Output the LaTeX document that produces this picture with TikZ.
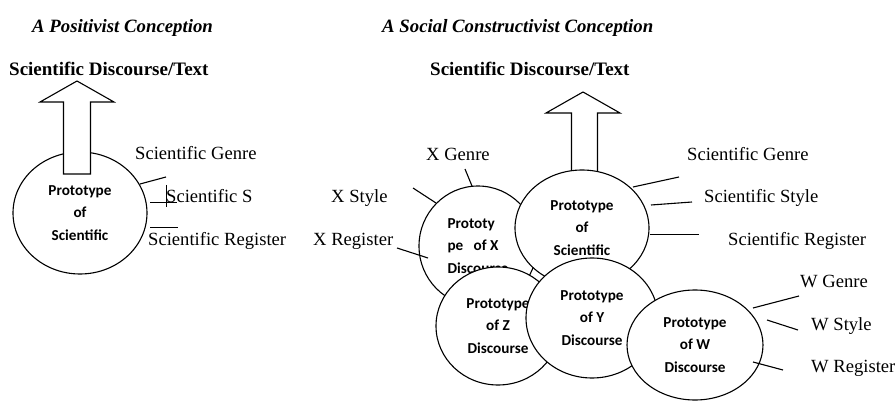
\documentclass[tikz,border=0pt]{standalone}
\usepackage{fontspec}
\setmainfont{Liberation Serif}
\newfontfamily\carl{Carlito}
\usetikzlibrary{shapes.geometric}
\begin{document}
\begin{tikzpicture}[x=1pt,y=-1pt,
  proto/.style={ellipse, draw, fill=white, line width=1.1pt, inner sep=0pt, align=center,
    font=\carl\bfseries\fontsize{15.2}{22.5}\selectfont},
  lbl/.style={anchor=base west, inner sep=0pt, font=\fontsize{18.6}{20}\selectfont},
  ttl/.style={anchor=base west, inner sep=0pt, font=\bfseries\itshape\fontsize{18.8}{20}\selectfont},
  hd/.style={anchor=base west, inner sep=0pt, font=\bfseries\fontsize{19}{20}\selectfont},
  tick/.style={line width=1.1pt},
  bigarrow/.style={draw, fill=white, line width=1.1pt, line join=miter}
]
\useasboundingbox (0,0) rectangle (895,401);

% ---------- titles ----------
\node[ttl] (t1) at (32,33) {A Positivist Conception};
\node[ttl] (t2) at (382,33) {A Social Constructivist Conception};
\node[hd] (h1) at (9,76) {Scientific Discourse/Text};
\node[hd] (h2) at (430,76) {Scientific Discourse/Text};

% ---------- left: positivist ----------
\node[proto, minimum width=134pt, minimum height=122pt] (pl) at (80,213) {Prototype\\of\\Scientific};
\draw[bigarrow] (63.5,174) -- (63.5,102) -- (40,102) -- (77,81) -- (114,102) -- (90.5,102) -- (90.5,174) -- cycle;

\node[lbl] (lg) at (135,160) {Scientific Genre};
\node[lbl] (ls) at (166,203) {Scientific S};
\node[lbl] (lr) at (148,245) {Scientific Register};

\coordinate (lg1) at (140,184); \coordinate (lg2) at (166,177);
\coordinate (ls1) at (150,202.5); \coordinate (ls2) at (177,202.5);
\coordinate (lt1) at (166.5,185); \coordinate (lt2) at (166.5,207);
\coordinate (lr1) at (150,227.5); \coordinate (lr2) at (178,227.5);
\draw[tick] (lg1) -- (lg2);
\draw[tick] (ls1) -- (ls2);
\draw[tick] (lt1) -- (lt2);
\draw[tick] (lr1) -- (lr2);

% ---------- right: social constructivist ----------
\draw[bigarrow] (571.5,195) -- (571.5,113) -- (546,113) -- (583,92) -- (620,113) -- (597.5,113) -- (597.5,195) -- cycle;

\node[proto, minimum width=118pt, minimum height=120pt, align=left] (px) at (478,246) {Prototy\\pe\ \ \ of X\\Discourse};
\node[proto, minimum width=134pt, minimum height=116pt] (ps) at (582,228) {Prototype\\of\\Scientific};
\node[proto, minimum width=124pt, minimum height=118pt] (pz) at (498,326) {Prototype\\of Z\\Discourse};
\node[proto, minimum width=132pt, minimum height=120pt] (py) at (592,318) {Prototype\\of Y\\Discourse};
\node[proto, minimum width=136pt, minimum height=110pt] (pw) at (695,345) {Prototype\\of W\\Discourse};

% X labels
\node[lbl] (xg) at (426,161) {X Genre};
\node[lbl] (xs) at (331,203) {X Style};
\node[lbl] (xr) at (313,245) {X Register};
\coordinate (xg1) at (465,169); \coordinate (xg2) at (472,186);
\coordinate (xs1) at (413,188); \coordinate (xs2) at (436,203);
\coordinate (xr1) at (397,248); \coordinate (xr2) at (428,258);
\draw[tick] (xg1) -- (xg2);
\draw[tick] (xs1) -- (xs2);
\draw[tick] (xr1) -- (xr2);

% Scientific labels
\node[lbl] (sg) at (687,161) {Scientific Genre};
\node[lbl] (ss) at (704,203) {Scientific Style};
\node[lbl] (sr) at (728,245) {Scientific Register};
\coordinate (sg1) at (633,187); \coordinate (sg2) at (679,177);
\coordinate (ss1) at (651,205); \coordinate (ss2) at (692,202);
\coordinate (sr1) at (650,234.5); \coordinate (sr2) at (699,234.5);
\draw[tick] (sg1) -- (sg2);
\draw[tick] (ss1) -- (ss2);
\draw[tick] (sr1) -- (sr2);

% W labels
\node[lbl] (wg) at (800,287) {W Genre};
\node[lbl] (ws) at (811,330) {W Style};
\node[lbl] (wr) at (811,372) {W Register};
\coordinate (wg1) at (753,308); \coordinate (wg2) at (799,296);
\coordinate (ws1) at (767,320); \coordinate (ws2) at (798,330);
\coordinate (wr1) at (753,362); \coordinate (wr2) at (783,370);
\draw[tick] (wg1) -- (wg2);
\draw[tick] (ws1) -- (ws2);
\draw[tick] (wr1) -- (wr2);
\end{tikzpicture}
\end{document}
